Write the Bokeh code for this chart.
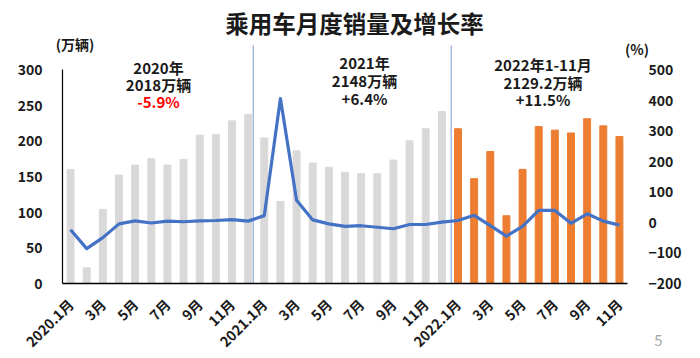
import math
from bokeh.plotting import figure
from bokeh.models import (Range1d, LinearAxis, FixedTicker, Label, ColumnDataSource)
from bokeh.embed import file_html
from bokeh.resources import INLINE

# ---- data ----
years = ["2020", "2021", "2022"]
months_2020 = ["2020.1月", "2月", "3月", "4月", "5月", "6月", "7月", "8月", "9月", "10月", "11月", "12月"]
months_2021 = ["2021.1月", "2月", "3月", "4月", "5月", "6月", "7月", "8月", "9月", "10月", "11月", "12月"]
months_2022 = ["2022.1月", "2月", "3月", "4月", "5月", "6月", "7月", "8月", "9月", "10月", "11月"]

sales_2020 = [160, 22, 104, 152, 166, 175, 166, 174, 208, 209, 228, 237]
sales_2021 = [204, 115, 186, 169, 163, 156, 154, 154, 173, 200, 217, 241]
sales_2022 = [217, 147, 185, 95, 160, 220, 215, 211, 231, 221, 206]

growth_2020 = [-24, -86, -50, -5, 5, -2, 4, 2, 5, 6, 9, 4]
growth_2021 = [22, 405, 72, 8, -5, -13, -11, -16, -21, -7, -7, 1]
growth_2022 = [6, 23, -11, -45, -13, 39, 39, -3, 28, 4, -9]

left_ticks = [0, 50, 100, 150, 200, 250, 300]
right_ticks = [-200, -100, 0, 100, 200, 300, 400, 500]

summary_lines = {
    "2020": ["2020年", "2018万辆", "-5.9%"],
    "2021": ["2021年", "2148万辆", "+6.4%"],
    "2022": ["2022年1-11月", "2129.2万辆", "+11.5%"],
}
title_text = "乘用车月度销量及增长率"
left_unit = "(万辆)"
right_unit = "(%)"
page_no = "5"

# ---- derived ----
labels = months_2020 + months_2021 + months_2022
sales = sales_2020 + sales_2021 + sales_2022
growth = growth_2020 + growth_2021 + growth_2022
n = len(labels)
idx = list(range(n))
colors = ["#D9D9D9"] * (len(sales_2020) + len(sales_2021)) + ["#ED7D31"] * len(sales_2022)
src = ColumnDataSource(dict(x=idx, sales=sales, growth=growth, color=colors))

FONT = "Noto Sans CJK SC"
W, H = 700, 358
# pixel layout of the plotting area (axes drawn at fixed locations)
AX_L, AX_R, AX_B, AX_T = 62, 627, 283, 69
pxu = (AX_R - AX_L) / n
x0 = -0.5 - AX_L / pxu
x1 = n - 0.5 + (W - AX_R) / pxu
ly = (AX_B - AX_T) / (left_ticks[-1] - left_ticks[0])
ry = (AX_B - AX_T) / (right_ticks[-1] - right_ticks[0])
y0 = left_ticks[0] - (H - AX_B) / ly
y1 = left_ticks[-1] + AX_T / ly
r0 = right_ticks[0] - (H - AX_B) / ry
r1 = right_ticks[-1] + AX_T / ry

def sy(v):  # screen y -> left data
    return (AX_B - v) / ly

def sx(v):  # screen x -> index
    return (v - AX_L) / pxu - 0.5

p = figure(width=W, height=H, output_backend="svg", toolbar_location=None,
           x_range=Range1d(x0, x1), y_range=Range1d(y0, y1),
           min_border_left=0, min_border_right=0, min_border_top=0, min_border_bottom=0)
p.outline_line_color = None
p.grid.visible = False
p.background_fill_color = "white"
p.border_fill_color = "white"
p.extra_y_ranges = {"pct": Range1d(r0, r1)}

# year separators
sep_x = [sx(252.7), sx(450.7)]
p.segment(x0=sep_x, y0=[0, 0], x1=sep_x, y1=[sy(45), sy(45)], line_color="#8FAADC", line_width=1.2)

p.vbar(x="x", top="sales", width=0.43, color="color", source=src)
p.line(x="x", y="growth", source=src, y_range_name="pct", line_color="#4472C4", line_width=3.2,
       line_join="round")

# x axis
xa = p.xaxis[0]
xa.fixed_location = 0
xa.bounds = (-0.5, n - 0.5)
xa.ticker = FixedTicker(ticks=idx[::2])
xa.major_label_overrides = {i: labels[i] for i in idx[::2]}
xa.major_label_orientation = math.pi / 4
xa.major_label_text_font = FONT
xa.major_label_text_font_style = "bold"
xa.major_label_text_font_size = "14px"
xa.major_label_text_color = "#1a1a1a"
xa.axis_line_color = "black"
xa.axis_line_width = 1.5
xa.major_tick_line_color = None
xa.minor_tick_line_color = None
xa.major_label_standoff = 12

ya = p.yaxis[0]
ya.fixed_location = -0.5
ya.ticker = FixedTicker(ticks=left_ticks)
ya.bounds = (0, 300)
ya.major_label_text_font = FONT
ya.major_label_text_font_style = "bold"
ya.major_label_text_font_size = "14px"
ya.major_label_text_color = "#1a1a1a"
ya.axis_line_color = "black"
ya.axis_line_width = 1.2
ya.major_tick_line_color = None
ya.minor_tick_line_color = None
ya.major_label_standoff = 14

ra = LinearAxis(y_range_name="pct", ticker=FixedTicker(ticks=right_ticks), bounds=(-200, 500),
                fixed_location=n - 0.5)
ra.major_label_text_font = FONT
ra.major_label_text_font_style = "bold"
ra.major_label_text_font_size = "14px"
ra.major_label_text_color = "#1a1a1a"
ra.axis_line_color = None
ra.major_tick_line_color = None
ra.minor_tick_line_color = None
ra.major_label_standoff = 15
p.add_layout(ra, "right")

def lab(x, y, text, size="15px", color="#1a1a1a", bold=True):
    p.add_layout(Label(x=x, y=y, text=text, text_font=FONT, text_font_size=size,
                       text_font_style="bold" if bold else "normal", text_color=color,
                       text_align="center", text_baseline="middle"))

lab(sx(354), sy(22), title_text, size="23.5px")
lab(sx(74.5), sy(43), left_unit, size="14px")
lab(sx(636.5), sy(48), right_unit, size="14px")
pos = {"2020": (158, [67, 84, 101]), "2021": (364, [62, 80, 98]), "2022": (542.5, [64, 82, 99])}
for yr in years:
    xx, ys = pos[yr]
    for k, t in enumerate(summary_lines[yr]):
        col = "#FF0000" if (k == 2 and t.startswith("-")) else "#1a1a1a"
        lab(sx(xx), sy(ys[k]), t, size="15px", color=col)
lab(sx(658), sy(340), page_no, size="15px", color="#A6A6A6", bold=False)

open("out.html", "w").write(file_html(p, INLINE))
